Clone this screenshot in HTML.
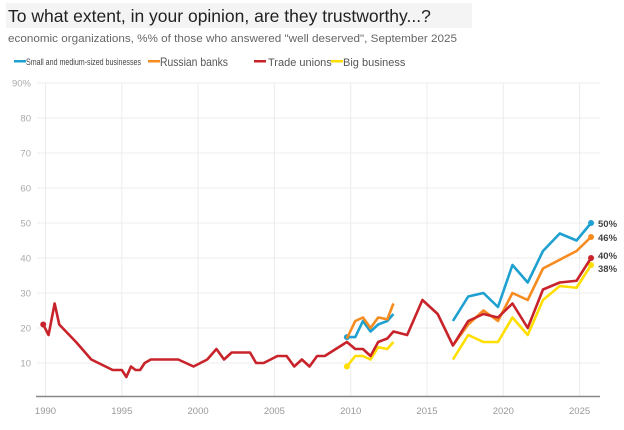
<!DOCTYPE html>
<html><head><meta charset="utf-8"><style>
body{margin:0;background:#fff;width:624px;height:425px;overflow:hidden;font-family:"Liberation Sans",sans-serif}
</style></head><body>
<svg id="chart" width="624" height="425" xmlns="http://www.w3.org/2000/svg">
<rect x="6" y="3" width="466" height="25" fill="#f4f4f4"/>
<text x="8" y="22" font-size="17.5" fill="#222">To what extent, in your opinion, are they trustworthy...?</text>
<text x="8" y="42" font-size="11.3" fill="#666" textLength="449" lengthAdjust="spacingAndGlyphs">economic organizations, %% of those who answered "well deserved", September 2025</text>
<g>
<g><rect x="14" y="60" width="12" height="2.5" fill="#1ea0d0"/><text x="26" y="65" font-size="9" fill="#444" textLength="115" lengthAdjust="spacingAndGlyphs">Small and medium-sized businesses</text></g>
<g><rect x="148" y="60" width="12" height="2.5" fill="#f68b1f"/><text x="160" y="66" font-size="12" fill="#555" textLength="68" lengthAdjust="spacingAndGlyphs">Russian banks</text></g>
<g><rect x="254" y="60" width="12" height="2.5" fill="#c8232a"/><text x="268" y="66" font-size="11" fill="#555">Trade unions</text></g>
<g><rect x="331" y="60" width="12" height="2.5" fill="#ffde00"/><text x="343" y="66" font-size="11" fill="#555">Big business</text></g>
</g>
<g id="grid"></g><g id="series"></g>
</svg>
<script>
const yTicks=[10,20,30,40,50,60,70,80,90];
const xTicks=[1990,1995,2000,2005,2010,2015,2020,2025];
const smeYears=[2009.75,2010.3,2010.8,2011.3,2011.8,2012.4,2012.8,null,2016.7,2017.7,2018.7,2019.65,2020.6,2021.6,2022.6,2023.7,2024.8,2025.75];
const smeVals=[17.4,17.4,22,19,21,22,24,null,22,29,30,26,38,33,42,47,45,50];
const bankYears=[2009.75,2010.3,2010.8,2011.3,2011.8,2012.4,2012.8,null,2016.7,2017.7,2018.7,2019.65,2020.6,2021.6,2022.6,2024.8,2025.75];
const bankVals=[17,22,23,20,23,22.5,27,null,15,21,25,22,30,28,37,42,46];
const unionYears=[1989.85,1990.2,1990.6,1990.9,1992,1993,1994.4,1995,1995.3,1995.6,1995.9,1996.2,1996.5,1996.9,1998.7,1999.7,2000.6,2001.2,2001.7,2002.2,2003.4,2003.8,2004.3,2005.2,2005.8,2006.3,2006.8,2007.3,2007.8,2008.3,2009.75,2010.3,2010.8,2011.3,2011.8,2012.4,2012.8,2013.7,2014.7,2015.7,2016.7,2017.7,2018.7,2019.65,2020.6,2021.6,2022.6,2023.7,2024.8,2025.75];
const unionVals=[21,18,27,21,16,11,8,8,6,9,8,8,10,11,11,9,11,14,11,13,13,10,10,12,12,9,11,9,12,12,16,14,14,12,16,17,19,18,28,24,15,22,24,23,27,20,31,33,33.5,40];
const bigYears=[2009.75,2010.3,2010.8,2011.3,2011.8,2012.4,2012.8,null,2016.7,2017.7,2018.7,2019.65,2020.6,2021.6,2022.6,2023.7,2024.8,2025.75];
const bigVals=[9,12,12,11,14.5,14,16,null,11,18,16,16,23,18,28,32,31.5,38];
const endLabels=["50%","46%","40%","38%"];

const NS="http://www.w3.org/2000/svg";
const X=y=>45.5+(y-1990)*15.26;
const Y=v=>398-v*3.5;
const grid=document.getElementById('grid'),ser=document.getElementById('series');
function mk(tag,attrs,parent){const e=document.createElementNS(NS,tag);for(const k in attrs)e.setAttribute(k,attrs[k]);parent.appendChild(e);return e;}
yTicks.forEach(t=>{
 const l=mk('line',{x1:37,x2:600,y1:Y(t),y2:Y(t),stroke:'#ececec','stroke-width':1},grid);
 
 
 const tx=mk('text',{x:31,y:Y(t)+3.5,'font-size':9.5,fill:'#aaa','text-anchor':'end'},grid);
 tx.textContent=t===90?'90%':t;
 
 
});
xTicks.forEach(t=>{
 const l=mk('line',{x1:X(t),x2:X(t),y1:83,y2:396,stroke:'#ececec','stroke-width':1},grid);
 
 
 const tx=mk('text',{x:X(t),y:414,'font-size':9.5,fill:'#999','text-anchor':'middle'},grid);
 tx.textContent=t;
 
 
});
const ax=mk('line',{x1:36,x2:600,y1:396.5,y2:396.5,stroke:'#888','stroke-width':1.5},grid);


function draw(name,years,vals,color,startDot){
 let segs=[[]];
 years.forEach((y,i)=>{if(y===null){segs.push([]);}else segs[segs.length-1].push([X(y),Y(vals[i])]);});
 segs.forEach(s=>{
  const p=mk('polyline',{points:s.map(q=>q.join(',')).join(' '),fill:'none',stroke:color,'stroke-width':2.6,'stroke-linejoin':'round'},ser);
  
  
 });
 const first=[X(years[0]),Y(vals[0])];
 if(startDot){const d=mk('circle',{cx:first[0],cy:first[1],r:3,fill:color},ser);
  
  }
 const n=years.length-1,last=[X(years[n]),Y(vals[n])];
 const d2=mk('circle',{cx:last[0],cy:last[1],r:3,fill:color},ser);
 
 
 return last;
}
const e1=draw('small-medium-businesses',smeYears,smeVals,'#1ea0d0',true);
const e2=draw('russian-banks',bankYears,bankVals,'#f68b1f',false);
const e3=draw('big-business',bigYears,bigVals,'#ffde00',true);
const e4=draw('trade-unions',unionYears,unionVals,'#c8232a',true);
[[e1,0,0],[e2,1,0],[e4,2,-3],[e3,3,3]].forEach(([p,i,dy])=>{
 const t=mk('text',{x:598,y:p[1]+4+dy,'font-size':9.5,fill:'#444','font-weight':'bold'},ser);
 t.textContent=endLabels[i];
 
 
});
</script>
</body></html>
